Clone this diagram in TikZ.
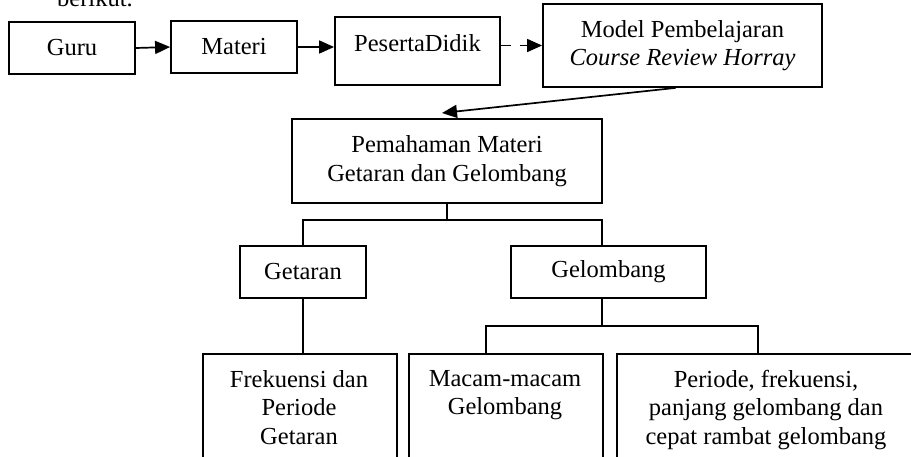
\documentclass[tikz,border=0pt]{standalone}
\usepackage{fontspec}
\setmainfont{Liberation Serif}
\usetikzlibrary{arrows.meta}
\begin{document}
\begin{tikzpicture}[x=1pt,y=-1pt,
  font=\fontsize{24.5}{28.5}\selectfont,
  box/.style={draw, line width=1.8pt, inner sep=0pt},
  conn/.style={line width=1.7pt},
  arr/.style={conn, -{Triangle[length=15pt,width=13pt]}},
  txt/.style={align=center, inner sep=0pt}]
\useasboundingbox (0,0) rectangle (911,456);
\node[anchor=base west, inner sep=0pt] (berikut) at (57,6) {berikut.};
% top row
\node[box, minimum width=126pt, minimum height=52pt] (guru) at (72,48) {Guru};
\node[box, minimum width=126pt, minimum height=52pt] (materi) at (234,47) {Materi};
\node[box, minimum width=165pt, minimum height=68pt] (peserta) at (417.5,51) {};
\node[txt] (pesertat) at (417.5,43) {PesertaDidik};
\node[box, minimum width=279pt, minimum height=83pt, align=center] (model) at (682.5,45.5) {Model Pembelajaran\\\textit{Course Review Horray}};
% middle
\node[box, minimum width=310pt, minimum height=84pt, align=center] (pem) at (447,161) {Pemahaman Materi\\Getaran dan Gelombang};
\node[box, minimum width=126pt, minimum height=52pt] (get) at (303,272) {Getaran};
\node[box, minimum width=195pt, minimum height=52pt] (gel) at (608.5,272) {Gelombang};
% bottom
\node[box, anchor=north west, minimum width=194pt, minimum height=130pt] (frek) at (202,353) {};
\node[box, anchor=north west, minimum width=194pt, minimum height=130pt] (mac) at (408,353) {};
\node[box, anchor=north west, minimum width=300pt, minimum height=130pt] (per) at (616,353) {};
\node[txt, anchor=north] (frekt) at (299,370) {Frekuensi dan\\Periode\\Getaran};
\node[txt, anchor=north] (mact) at (505,370) {Macam-macam\\Gelombang};
\node[txt, anchor=north] (pert) at (766,370) {Periode, frekuensi,\\panjang gelombang dan\\cepat rambat gelombang};
% connectors
\draw[arr] (guru.east) -- (materi.west);
\draw[arr] (materi.east) -- (materi.east -| peserta.west);
\draw[arr, dash pattern=on 10pt off 9pt] (peserta.east |- model.west) -- (model.west);
\coordinate (tip) at (442,113);
\draw[arr] ([xshift=-7pt]model.south) -- (tip);
\coordinate (j1) at (447,220);
\draw[conn] (pem.south) -- (j1);
\draw[conn] (j1) -| (get.north);
\draw[conn] (j1) -| ([xshift=-6.5pt]gel.north);
\draw[conn] (get.south) -- (get.south |- frek.north);
\coordinate (j2) at (602,326);
\draw[conn] ([xshift=-6.5pt]gel.south) -- (j2);
\draw[conn] (j2) -| ([xshift=-20pt]mac.north);
\draw[conn] (j2) -| ([xshift=-9pt]per.north);
\end{tikzpicture}
\end{document}
